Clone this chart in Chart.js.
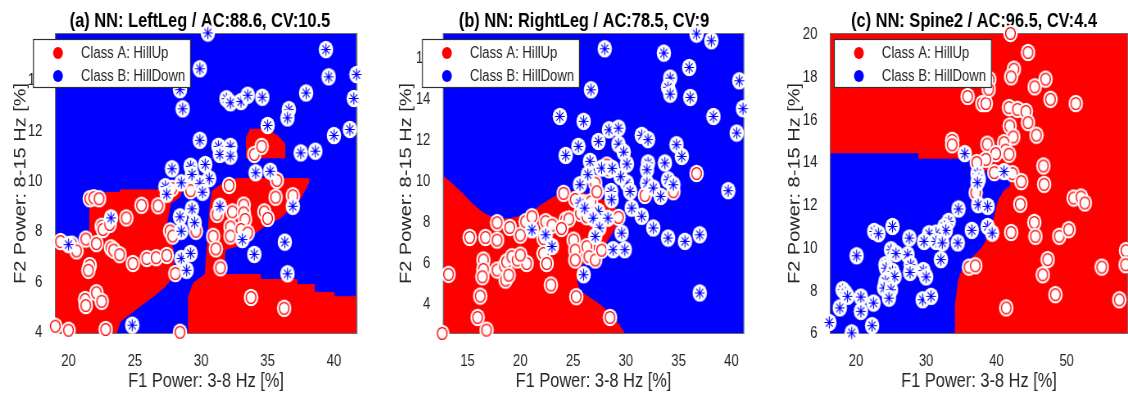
<!DOCTYPE html>
<html>
<head>
<meta charset="utf-8">
<script src="https://cdn.jsdelivr.net/npm/chart.js@4.4.1/dist/chart.umd.min.js"></script>
<style>
html, body { margin: 0; padding: 0; background: #fff; }
#wrap { position: relative; width: 1128px; height: 394px; overflow: hidden; }
canvas { position: absolute; top: 0; transform-origin: 0 0; }
</style>
</head>
<body>
<div id="wrap">
  <canvas id="chartA"></canvas>
  <canvas id="chartB"></canvas>
  <canvas id="chartC"></canvas>
</div>
<script>
const RED = '#ff0000';
const BLUE = '#0000ff';
const LEGEND_LABELS = ['Class A: HillUp', 'Class B: HillDown'];
const X_LABEL = 'F1 Power: 3-8 Hz [%]';
const Y_LABEL = 'F2 Power: 8-15 Hz [%]';

// ---- (a) LeftLeg ----
const leftLegX = [18.98, 41.74];
const leftLegY = [3.95, 15.9];
const leftLegXTicks = [20, 25, 30, 35, 40];
const leftLegYTicks = [4, 6, 8, 10, 12, 14];
const leftLegHillUp = [
  [34.0,11.08],[34.55,11.4],[35.7,10.05],[32.1,9.85],[27.8,9.73],[29.2,9.64],[21.6,9.32],[21.9,9.36],
  [22.3,9.32],[35.6,9.38],[36.9,9.44],[25.5,9.06],[26.75,9.04],[33.2,9.07],[31.2,8.7],[32.35,8.8],
  [33.2,8.76],[33.3,8.5],[34.75,8.8],[35.0,8.54],[24.35,8.56],[22.5,8.23],[22.6,8.1],[23.1,8.3],
  [27.65,8.04],[27.85,7.84],[29.6,8.03],[32.2,8.2],[32.2,7.84],[33.0,8.1],[33.5,7.96],[30.9,7.83],
  [31.1,7.33],[21.3,7.72],[19.4,7.62],[20.25,7.52],[20.6,7.25],[22.1,7.54],[23.2,7.37],[23.4,7.28],
  [23.85,7.1],[24.85,6.75],[25.9,6.95],[26.6,6.98],[27.4,7.07],[31.45,6.58],[28.05,6.35],[21.6,6.67],
  [21.5,6.48],[21.25,5.32],[21.3,5.08],[22.1,5.59],[22.5,5.25],[33.75,5.4],[36.25,4.97],[19.0,4.26],
  [20.0,4.1],[22.8,4.13],[28.4,4.02]
];
const leftLegHillDown = [
  [30.5,15.9],[29.9,14.48],[39.4,15.24],[39.6,14.16],[41.7,14.25],[41.5,13.3],[28.4,13.65],[28.6,12.89],
  [31.9,13.29],[32.2,13.13],[33.0,13.18],[33.5,13.43],[34.6,13.35],[37.9,13.52],[36.6,12.86],[36.5,12.53],
  [35.0,12.23],[40.0,11.83],[41.2,12.07],[37.5,11.14],[38.6,11.21],[29.9,11.64],[31.3,11.4],[31.4,11.08],
  [32.2,11.4],[32.2,11.01],[27.8,10.51],[29.2,10.61],[29.3,10.28],[30.3,10.68],[30.6,10.12],[28.5,9.95],
  [29.9,9.92],[34.1,10.35],[35.2,10.41],[27.3,9.8],[27.4,9.5],[30.1,9.58],[29.3,8.92],[28.4,8.6],
  [29.5,8.37],[28.5,8.03],[31.4,9.02],[36.9,9.02],[23.2,8.56],[20.0,7.5],[33.1,7.7],[36.3,7.6],
  [34.0,7.11],[28.5,6.95],[29.2,7.15],[28.9,6.48],[36.5,6.34],[24.8,4.3]
];
const leftLegRedMain = [
  [18.98,7.45],[21.6,7.45],[21.6,9.44],[22.8,9.44],[22.8,9.57],[23.9,9.57],[23.9,9.67],[28.6,9.67],
  [28.3,9.35],[27.7,9.15],[27.3,8.1],[27.9,7.3],[27.9,6.25],[27.3,5.85],[26.4,5.45],[25.4,5.06],
  [24.9,4.85],[23.9,4.45],[23.6,3.95],[18.98,3.95]
];
const leftLegRedCentre = [
  [30.8,9.62],[31.9,10.02],[32.7,10.12],[38.1,10.12],[38.1,9.95],[37.45,9.3],[35.95,8.56],[34.95,8.3],
  [34.1,7.97],[33.45,7.5],[32.7,7.44],[31.8,7.3],[31.7,6.31],[34.45,6.31],[34.45,6.11],[37.2,6.11],
  [37.2,5.91],[38.5,5.91],[38.5,5.6],[40.0,5.6],[40.0,5.43],[41.74,5.43],[41.74,3.95],[29.04,3.95],
  [29.04,5.45],[29.42,5.98],[30.3,6.31],[30.43,7.31],[30.68,9.16]
];
const leftLegRedIsland = [
  [33.4,10.93],[33.4,11.75],[33.7,12.08],[35.0,12.08],[35.9,11.75],[36.3,11.5],[36.3,10.93]
];

// ---- (b) RightLeg ----
const rightLegX = [12.67, 41.2];
const rightLegY = [2.59, 17.27];
const rightLegXTicks = [15, 20, 25, 30, 35, 40];
const rightLegYTicks = [4, 6, 8, 10, 12, 14, 16];
const rightLegHillUp = [
  [28.2,10.83],[28.4,10.6],[27.1,9.94],[36.7,10.42],[24.1,9.45],[31.8,9.35],[34.5,9.53],[25.2,9.15],
  [26.0,8.99],[26.7,9.04],[27.25,9.53],[13.2,5.5],[15.2,7.3],[16.7,7.3],[17.8,7.17],[17.8,8.02],
  [19.0,7.79],[20.0,7.41],[20.5,8.07],[21.1,8.31],[22.4,8.07],[23.0,7.9],[24.3,8.15],[24.6,8.2],
  [23.9,7.74],[25.7,8.47],[26.3,8.31],[29.3,8.28],[25.05,7.17],[25.2,6.68],[25.2,6.2],[26.3,6.85],
  [26.5,6.36],[27.1,6.2],[27.7,6.68],[22.2,7.25],[22.2,6.52],[22.5,6.03],[22.9,4.98],[25.3,4.41],
  [28.5,3.4],[16.5,6.2],[16.5,5.74],[16.4,5.38],[16.2,4.44],[15.95,3.4],[16.8,2.78],[12.6,2.62],
  [17.8,5.71],[18.5,5.9],[18.7,6.11],[19.2,6.36],[19.7,6.2],[20.6,6.03],[20.0,6.44],[18.6,5.22],
  [18.9,5.46]
];
const rightLegHillDown = [
  [36.7,17.22],[38.1,16.89],[28.0,16.5],[33.6,16.29],[36.0,15.59],[34.2,15.07],[34.0,14.62],[34.2,14.29],
  [36.1,14.13],[40.75,14.94],[41.1,13.58],[38.3,13.2],[40.5,12.39],[26.7,14.5],[23.75,13.2],[26.0,12.96],
  [24.3,11.3],[25.5,11.74],[27.4,11.98],[28.4,12.55],[29.3,12.63],[29.3,11.85],[29.8,11.46],[31.5,12.28],
  [32.1,12.07],[34.8,11.82],[35.3,11.25],[26.6,11.01],[26.4,10.36],[27.7,10.68],[30.1,10.88],[32.1,10.93],
  [32.0,10.6],[33.7,10.93],[34.0,10.11],[34.5,9.87],[30.1,9.95],[30.4,9.54],[28.6,9.54],[28.65,9.14],
  [32.0,9.95],[32.6,9.71],[33.3,9.3],[25.65,9.87],[25.65,8.98],[26.1,8.73],[27.4,8.57],[28.3,8.24],
  [26.9,8.24],[27.5,7.76],[27.1,7.35],[30.55,8.73],[31.5,8.33],[32.6,7.76],[29.6,7.51],[34.0,7.27],
  [35.6,7.11],[37.0,7.43],[28.8,6.7],[29.9,6.7],[21.1,7.67],[22.4,7.43],[23.0,6.86],[26.0,5.48],
  [37.0,4.59],[39.7,9.58],[29.5,10.26],[28.7,10.67]
];
const rightLegRed = [
  [12.67,10.3],[13.64,9.87],[14.59,9.4],[15.54,8.89],[16.49,8.49],[17.59,8.2],[18.85,8.2],[20.12,8.33],
  [21.38,8.65],[22.33,9.0],[23.28,9.3],[24.86,9.54],[26.75,9.38],[28.02,9.06],[28.97,8.73],[28.97,7.76],
  [28.02,6.94],[26.44,6.29],[25.68,5.87],[25.36,5.15],[25.68,4.67],[27.58,4.0],[28.84,3.43],[29.91,2.59],
  [12.67,2.59]
];

// ---- (c) Spine2 ----
const spineX = [16.3, 58.75];
const spineY = [6.0, 20.08];
const spineXTicks = [20, 30, 40, 50];
const spineYTicks = [6, 8, 10, 12, 14, 16, 18, 20];
const spineHillUp = [
  [42.0,20.06],[44.5,19.17],[42.5,18.39],[42.1,18.03],[47.0,17.92],[45.45,17.56],[47.7,16.98],[51.3,16.78],
  [35.9,17.11],[38.0,16.78],[38.5,16.78],[39.0,17.9],[38.9,17.45],[41.8,16.59],[43.0,16.51],[44.2,16.41],
  [44.5,15.89],[45.7,15.3],[41.9,15.73],[42.4,15.22],[33.7,15.06],[33.7,14.85],[38.7,14.88],[41.1,14.95],
  [41.3,14.6],[41.8,14.41],[39.9,14.44],[38.5,14.17],[37.2,14.02],[39.7,13.55],[42.3,13.5],[43.55,13.13],
  [46.7,13.86],[46.8,13.0],[43.4,12.07],[37.05,12.61],[51.0,12.36],[52.05,12.41],[52.6,12.13],[45.4,11.22],
  [45.55,10.57],[48.95,10.57],[50.3,10.88],[42.1,10.75],[47.3,9.48],[46.6,8.77],[36.1,9.13],[37.0,9.19],
  [55.0,9.13],[48.4,7.84],[41.4,7.22],[57.5,7.6],[58.45,9.9],[58.4,9.24]
];
const spineHillDown = [
  [35.5,14.44],[37.3,13.5],[37.5,13.25],[37.3,13.08],[41.1,13.6],[37.4,12.05],[38.75,11.97],[34.6,11.85],
  [33.2,11.27],[32.6,11.03],[32.8,10.85],[31.4,10.72],[30.4,10.69],[29.7,10.33],[31.4,10.33],[32.3,10.26],
  [32.1,9.48],[34.5,10.26],[36.5,10.85],[38.75,11.03],[39.4,10.72],[22.6,10.8],[23.2,10.69],[25.2,11.03],
  [20.1,9.66],[27.6,10.49],[27.35,9.71],[27.8,9.24],[27.7,8.88],[25.0,9.94],[25.7,9.76],[24.2,9.24],
  [24.3,9.08],[25.2,8.93],[25.5,8.69],[24.2,8.46],[24.0,8.15],[25.0,8.07],[24.7,7.68],[29.6,8.97],
  [30.0,8.67],[29.5,7.6],[30.7,7.76],[18.1,8.07],[18.5,7.92],[18.8,7.76],[20.7,7.73],[20.7,7.06],
  [17.7,7.22],[22.5,7.45],[22.3,6.39],[16.2,6.54],[19.4,6.05]
];
const spineBlue = [
  [16.3,14.43],[28.8,14.43],[28.8,14.18],[36.3,14.18],[36.6,13.9],[37.6,13.6],[39.5,13.6],[41.3,13.9],
  [42.3,13.6],[41.8,12.9],[41.1,12.75],[40.2,12.28],[39.5,11.35],[38.5,10.41],[37.8,10.02],[36.6,9.63],
  [35.2,9.16],[34.5,8.54],[34.2,7.76],[34.0,7.3],[34.0,6.0],[16.3,6.0]
];

// the original figure is squeezed sideways: draw wide, then scale x by K
const K = 0.82;
const sx = v => v / K;
const FAM = '"Liberation Sans", Arial, Helvetica, sans-serif';
const TEXT = '#262626';

// ---- markers ----
function makeMarker(kind) {
  const c = document.createElement('canvas');
  c.width = 19; c.height = 19;
  const g = c.getContext('2d');
  g.fillStyle = '#fff';
  g.beginPath(); g.arc(9.5, 9.5, 8.8, 0, Math.PI * 2); g.fill();
  if (kind === 'up') {
    g.strokeStyle = RED; g.lineWidth = 1.4;
    g.beginPath(); g.arc(9.5, 9.5, 5.9, 0, Math.PI * 2); g.stroke();
  } else {
    g.strokeStyle = BLUE; g.lineWidth = 1.2;
    g.beginPath();
    g.moveTo(9.5, 3.5); g.lineTo(9.5, 15.5);
    g.moveTo(3.5, 9.5); g.lineTo(15.5, 9.5);
    g.moveTo(5.3, 5.3); g.lineTo(13.7, 13.7);
    g.moveTo(13.7, 5.3); g.lineTo(5.3, 13.7);
    g.stroke();
  }
  return c;
}
const upMarker = makeMarker('up');
const downMarker = makeMarker('down');

const toXY = arr => arr.map(p => ({ x: p[0], y: p[1] }));

// background colour, frame and legend box
const panelDeco = {
  id: 'panelDeco',
  beforeDatasetsDraw(chart, args, opts) {
    const a = chart.chartArea, ctx = chart.ctx;
    ctx.save();
    ctx.fillStyle = opts.bg;
    ctx.fillRect(a.left, a.top, a.right - a.left, a.bottom - a.top);
    ctx.restore();
  },
  afterDatasetDraw(chart, args) {
    if (!chart.data.datasets[args.index].isRegion) return;
    const a = chart.chartArea, ctx = chart.ctx;
    ctx.save();
    ctx.strokeStyle = '#6e6e6e';
    ctx.lineWidth = 1;
    ctx.strokeRect(a.left + 0.5, a.top + 0.5, a.right - a.left - 1, a.bottom - a.top - 1);
    ctx.restore();
  },
  afterDraw(chart, args, opts) {
    const a = chart.chartArea, ctx = chart.ctx;
    const bx = a.left + sx(opts.legendDx), by = 39, bw = sx(158), bh = 49;
    ctx.save();
    ctx.fillStyle = '#fff';
    ctx.fillRect(bx, by, bw, bh);
    ctx.strokeStyle = '#303030';
    ctx.lineWidth = 1.2;
    ctx.strokeRect(bx + 0.5, by + 0.5, bw - 1, bh - 1);
    const rows = [by + 14, by + 37];
    const cols = [RED, BLUE];
    rows.forEach((ry, i) => {
      ctx.fillStyle = cols[i];
      ctx.beginPath(); ctx.arc(bx + sx(25), ry, 6, 0, Math.PI * 2); ctx.fill();
      ctx.fillStyle = TEXT;
      ctx.font = '16px ' + FAM;
      ctx.textBaseline = 'middle';
      ctx.textAlign = 'left';
      ctx.fillText(LEGEND_LABELS[i], bx + sx(48), ry + 1);
    });
    ctx.restore();
  }
};

function buildChart(canvasId, cfg) {
  const canvas = document.getElementById(canvasId);
  canvas.width = Math.round(sx(cfg.width));
  canvas.height = 394;
  canvas.style.left = cfg.left + 'px';
  canvas.style.transform = 'scaleX(' + (cfg.width / canvas.width) + ')';

  const regionSets = cfg.regions.map(r => ({
    type: 'line',
    isRegion: true,
    data: toXY(r.pts),
    fill: 'shape',
    backgroundColor: r.color,
    borderColor: r.color,
    borderWidth: 1,
    pointRadius: 0,
    tension: 0,
    order: 3
  }));
  const pointSet = (pts, marker, order) => ({
    type: 'scatter',
    data: toXY(pts),
    pointStyle: marker,
    pointRadius: 9,
    order: order,
    clip: false
  });
  return new Chart(canvas, {
    type: 'scatter',
    data: {
      datasets: [
        pointSet(cfg.down, downMarker, 1),
        pointSet(cfg.up, upMarker, 2),
        ...regionSets
      ]
    },
    options: {
      responsive: false,
      animation: false,
      events: [],
      devicePixelRatio: 1,
      layout: { padding: 0 },
      scales: {
        x: {
          type: 'linear',
          min: cfg.xr[0], max: cfg.xr[1],
          afterBuildTicks: s => { s.ticks = cfg.xt.map(v => ({ value: v })); },
          afterFit: s => { s.height = 60; },
          grid: { display: false },
          border: { display: false },
          ticks: { padding: 10, color: TEXT, font: { family: FAM, size: 16 }, maxRotation: 0 },
          title: { display: true, text: X_LABEL, color: TEXT,
                   font: { family: FAM, size: 20 }, padding: { top: 0, bottom: 1 } }
        },
        y: {
          type: 'linear',
          min: cfg.yr[0], max: cfg.yr[1],
          afterBuildTicks: s => { s.ticks = cfg.yt.map(v => ({ value: v })); },
          afterFit: s => { s.width = sx(cfg.yAxisW); },
          grid: { display: false },
          border: { display: false },
          ticks: { padding: sx(6), color: TEXT, font: { family: FAM, size: 16 } },
          title: { display: true, text: Y_LABEL, color: TEXT,
                   font: { family: FAM, size: 20 }, padding: { top: sx(cfg.yTitleC) - 12, bottom: 0 } }
        },
        y2: {
          type: 'linear',
          position: 'right',
          afterFit: s => { s.width = sx(cfg.rightW); },
          grid: { display: false },
          border: { display: false },
          ticks: { display: false }
        }
      },
      plugins: {
        legend: { display: false },
        tooltip: { enabled: false },
        title: {
          display: true,
          text: cfg.title,
          color: '#000',
          font: { family: FAM, size: 20, weight: 'bold' },
          padding: { top: 9, bottom: 0 }
        },
        panelDeco: { bg: cfg.bg, legendDx: cfg.legendDx }
      }
    },
    plugins: [panelDeco]
  });
}

buildChart('chartA', {
  title: '(a) NN: LeftLeg / AC:88.6, CV:10.5',
  xr: leftLegX, yr: leftLegY, xt: leftLegXTicks, yt: leftLegYTicks,
  up: leftLegHillUp, down: leftLegHillDown,
  bg: BLUE,
  regions: [
    { pts: leftLegRedMain, color: RED },
    { pts: leftLegRedCentre, color: RED },
    { pts: leftLegRedIsland, color: RED }
  ],
  left: 0, width: 400, yAxisW: 55, rightW: 43, yTitleC: 21, legendDx: -22
});

buildChart('chartB', {
  title: '(b) NN: RightLeg / AC:78.5, CV:9',
  xr: rightLegX, yr: rightLegY, xt: rightLegXTicks, yt: rightLegYTicks,
  up: rightLegHillUp, down: rightLegHillDown,
  bg: BLUE,
  regions: [{ pts: rightLegRed, color: RED }],
  left: 380, width: 408, yAxisW: 63, rightW: 44, yTitleC: 27, legendDx: -21
});

buildChart('chartC', {
  title: '(c) NN: Spine2 / AC:96.5, CV:4.4',
  xr: spineX, yr: spineY, xt: spineXTicks, yt: spineYTicks,
  up: spineHillUp, down: spineHillDown,
  bg: RED,
  regions: [{ pts: spineBlue, color: BLUE }],
  left: 770, width: 408, yAxisW: 60, rightW: 50, yTitleC: 25, legendDx: 4
});
</script>
</body>
</html>
